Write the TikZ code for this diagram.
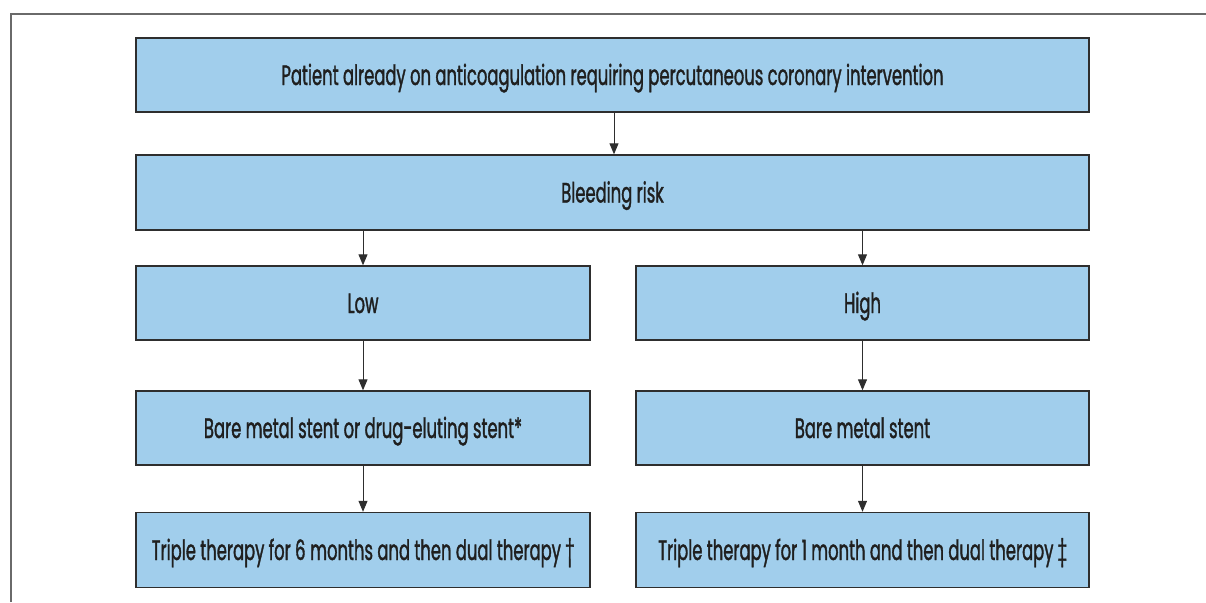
\documentclass[tikz,border=0pt]{standalone}
\usepackage{fontspec}
\setmainfont[FakeStretch=0.585,FakeBold=1.2]{Poppins}
\usetikzlibrary{arrows.meta}
\definecolor{boxfill}{HTML}{A1CEEC}
\definecolor{boxline}{HTML}{2E2E2E}
\definecolor{frameline}{HTML}{6A6A6A}
\tikzset{
  box/.style={draw=boxline, fill=boxfill, line width=1.4pt, inner sep=0pt,
    text height=20pt, text depth=0pt,
    font=\fontsize{28}{30}\selectfont, text=black!88},
  arr/.style={draw=boxline, line width=1pt, -{Triangle[length=11pt,width=9pt]}}
}
\begin{document}
\begin{tikzpicture}[x=1pt,y=-1pt]
\useasboundingbox (0,0) rectangle (1206,602);
\draw[frameline, line width=1.6pt] (11,602) -- (11,14) -- (1206,14);
\node[box, minimum width=953pt, minimum height=74pt] (top) at (612.5,75) {Patient already on anticoagulation requiring percutaneous coronary intervention};
\node[box, minimum width=953pt, minimum height=75pt] (bleed) at (612.5,192.5) {Bleeding risk};
\node[box, minimum width=454pt, minimum height=74pt] (low) at (363,303) {Low};
\node[box, minimum width=453pt, minimum height=74pt] (high) at (862.5,303) {High};
\node[box, minimum width=454pt, minimum height=74pt] (bmsl) at (363,428) {Bare metal stent or drug-eluting stent*};
\node[box, minimum width=453pt, minimum height=74pt] (bmsr) at (862.5,428) {Bare metal stent};
\node[box, minimum width=454pt, minimum height=75pt] (tl) at (363,550) {Triple therapy for 6\,months and then dual therapy \textdagger};
\node[box, minimum width=453pt, minimum height=75pt] (tr) at (862.5,550) {Triple therapy for 1 month and then dual therapy \textdaggerdbl};
\draw[arr] (top.south -| 614,0) -- (bleed.north -| 614,0);
\draw[arr] (bleed.south -| low.north) -- (low.north);
\draw[arr] (bleed.south -| high.north) -- (high.north);
\draw[arr] (low) -- (bmsl);
\draw[arr] (high) -- (bmsr);
\draw[arr] (bmsl) -- (tl);
\draw[arr] (bmsr) -- (tr);
\end{tikzpicture}
\end{document}
